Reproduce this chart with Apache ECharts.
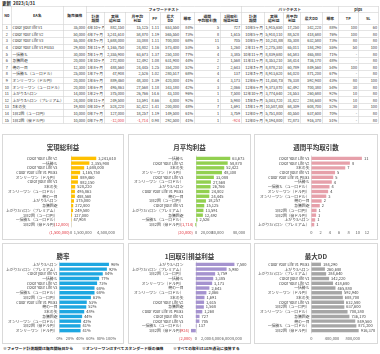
<!DOCTYPE html>
<html><head><meta charset="utf-8">
<script src="https://cdn.jsdelivr.net/npm/echarts/dist/echarts.min.js"></script>
<style>
html,body{margin:0;padding:0;width:380px;height:354px;background:#fff;overflow:hidden;font-family:"Noto Sans CJK JP",sans-serif;}
#upd{position:absolute;left:2px;top:0px;width:200px;height:12px;transform:scale(0.5);transform-origin:0 0;font-size:9px;font-weight:bold;color:#222;white-space:nowrap;}
#tblWrap{position:absolute;left:2px;top:6px;width:752px;transform:scale(0.5);transform-origin:0 0;}
table{border-collapse:collapse;table-layout:fixed;width:752px;font-size:7.6px;color:#333;}
td,th{border:1px solid #c8c8c8;padding:0 2px;white-space:nowrap;overflow:hidden;line-height:1.1;font-weight:normal;}
th{text-align:center;font-weight:bold;}
tbody td{height:12.2px;}
.r{text-align:right;}.c{text-align:center;}.l{text-align:left;}
.neg{color:#e0303a;}
.panel{position:absolute;border:1px solid #d9d9d9;box-sizing:border-box;}
.note{position:absolute;top:345px;height:12px;transform:scale(0.5);transform-origin:0 0;font-size:7.8px;font-weight:bold;color:#222;white-space:nowrap;}
</style></head>
<body>
<div id="upd">更新&nbsp;&nbsp;2023/1/31</div>
<div id="tblWrap"><table id="tbl"></table></div>
<div class="panel" id="p1" style="left:2px;top:134px;width:122px;height:106px"></div>
<div class="panel" id="p2" style="left:128px;top:134px;width:123px;height:106px"></div>
<div class="panel" id="p3" style="left:254px;top:134px;width:124px;height:106px"></div>
<div class="panel" id="p4" style="left:2px;top:243px;width:122px;height:101px"></div>
<div class="panel" id="p5" style="left:128px;top:243px;width:123px;height:101px"></div>
<div class="panel" id="p6" style="left:254px;top:243px;width:124px;height:101px"></div>
<div class="note" style="left:3px">※フォワード計測期間は販売開始日から</div>
<div class="note" style="left:82px">※オンリーワンはすべてスタンダード版の価格</div>
<div class="note" style="left:173px">※すべての取引は10万通貨に換算する</div>
<script>
// ---------- table data ----------
const eaNames = ['Color your life V1','Color Your Life V2','Color Your Life V3','Color Your Life V1 Plus3','一括勝ち','急騰回避','俺の一目','一括勝ち（ユーロドル）','オンリーワン（ドル円）','オンリーワン（ユーロドル）','上がり3ハロン','上がり3ハロン（プレミアム）','3本の矢','1日2回（ユーロ円）','1日2回（豪ドル円）'];
const prices = [35000,50000,55000,29800,30000,20000,12300,25000,20000,20000,14000,24000,19800,10000,10000];
const ftPeriod = ['4年10ヶ月','4年7ヶ月','4年3ヶ月','3年11ヶ月','3年1ヶ月','1年10ヶ月','1年8ヶ月','1年7ヶ月','1年6ヶ月','1年6ヶ月','1年2ヶ月','0年11ヶ月','0年10ヶ月','0年7ヶ月','0年7ヶ月'];
const ftProfit = [882150,3241610,1688000,1165750,2355900,272800,488560,47908,889460,495863,375000,249500,528220,127000,-12000];
const ftMonthly = [15125,58870,33088,24802,63673,12492,24445,2526,48300,27568,26766,13591,52422,18257,-1714];
const ftPF = ['1.11','1.19','1.11','1.16','1.37','1.08','1.25','1.02','1.39','1.18','14.6','8.66','1.41','1.19','0.98'];
const ftDD = [653550,565550,700000,573400,250100,631900,354200,280517,420000,343180,43100,4000,200000,149500,292500];
const ftWin = [84,73,68,53,77,44,52,68,41,42,96,92,48,61,41];
const ftWeekly = [5,8,11,5,4,2,2,4,4,3,1,1,7,1,1];
const ftPerTrade = [727,1615,705,1260,3385,1568,2643,137,3173,2066,7500,5980,1691,3759,-924];
const btPeriod = ['10年5ヶ月','10年5ヶ月','10年5ヶ月','2年11ヶ月','10年11ヶ月','11年11ヶ月','12年3ヶ月','12年3ヶ月','12年6ヶ月','12年6ヶ月','12年10ヶ月','13年3ヶ月','13年1ヶ月','12年0ヶ月','12年0ヶ月'];
const btProfit = [1915650,5910110,10241880,2275380,8839680,8353210,8878210,8913620,11450730,9373870,3774640,5043720,10587800,5751800,9194800];
const btMonthly = [17250,88528,85308,65011,64583,58414,60789,64020,76338,62492,24553,31822,68309,40550,72873];
const btDD = [342220,418680,632580,184290,465880,736170,849560,871200,592940,700380,260680,284640,608700,637600,916370];
const btWin = [88,76,73,55,71,48,54,67,43,54,92,92,52,70,51];
const pipsTP = ['100','100','80','50','-','-','100','-','80','30','10','10','30','-','-'];
const pipsSL = ['60','80','80','100','80','80','80','80','100','80','80','80','100','80','80'];

// ---------- chart data ----------
const c1Cats = ['Color Your Life V2','一括勝ち','Color Your Life V3','Color Your Life V1 Plus3','オンリーワン（ドル円）','Color your life V1','3本の矢','オンリーワン（ユーロドル）','俺の一目','上がり3ハロン','急騰回避','上がり3ハロン（プレミアム）','1日2回（ユーロ円）','一括勝ち（ユーロドル）','1日2回（豪ドル円）'];
const c1Vals = [3241610,2355900,1688000,1165750,889460,882150,528220,495863,488560,375000,272800,249500,127000,47908,-12000];
const c2Cats = ['一括勝ち','Color Your Life V2','3本の矢','オンリーワン（ドル円）','Color Your Life V3','オンリーワン（ユーロドル）','上がり3ハロン','Color Your Life V1 Plus3','俺の一目','1日2回（ユーロ円）','Color your life V1','上がり3ハロン（プレミアム）','急騰回避','一括勝ち（ユーロドル）','1日2回（豪ドル円）'];
const c2Vals = [63673,58870,52422,48300,33088,27568,26766,24802,24445,18257,15125,13591,12492,2526,-1714];
const c3Cats = ['Color Your Life V3','Color Your Life V2','3本の矢','Color your life V1','Color Your Life V1 Plus3','一括勝ち','一括勝ち（ユーロドル）','オンリーワン（ドル円）','オンリーワン（ユーロドル）','俺の一目','急騰回避','1日2回（ユーロ円）','1日2回（豪ドル円）','上がり3ハロン','上がり3ハロン（プレミアム）'];
const c3Vals = [10.9,8.3,7.3,5.1,4.7,4.4,3.9,3.6,3.2,2.2,1.8,1.1,1.0,0.8,0.6];
const c4Cats = ['上がり3ハロン','上がり3ハロン（プレミアム）','Color your life V1','一括勝ち','Color Your Life V2','Color Your Life V3','一括勝ち（ユーロドル）','1日2回（ユーロ円）','Color Your Life V1 Plus3','俺の一目','3本の矢','急騰回避','オンリーワン（ユーロドル）','1日2回（豪ドル円）','オンリーワン（ドル円）'];
const c4Vals = [96,92,84,77,73,68,68,61,53,52,48,44,42,41,41];
const c5Cats = ['上がり3ハロン','上がり3ハロン（プレミアム）','1日2回（ユーロ円）','一括勝ち','オンリーワン（ドル円）','俺の一目','オンリーワン（ユーロドル）','3本の矢','Color Your Life V2','急騰回避','Color Your Life V1 Plus3','Color your life V1','Color Your Life V3','一括勝ち（ユーロドル）','1日2回（豪ドル円）'];
const c5Vals = [7500,5980,3759,3385,3173,2643,2066,1691,1615,1568,1260,727,705,137,-924];
const c6Cats = ['Color Your Life V1 Plus3','上がり3ハロン','上がり3ハロン（プレミアム）','Color your life V1','Color Your Life V2','一括勝ち','オンリーワン（ドル円）','3本の矢','Color Your Life V3','1日2回（ユーロ円）','オンリーワン（ユーロドル）','急騰回避','俺の一目','一括勝ち（ユーロドル）','1日2回（豪ドル円）'];
const c6Vals = [184290,260680,284640,342220,418680,465880,592940,608700,632580,637600,700380,736170,849560,871200,916370];

// ---------- helpers ----------
const nf = v => Math.abs(v).toLocaleString('en-US');
const sgn = v => (v < 0 ? '-' : '') + nf(v);
const acc = v => v < 0 ? '(' + nf(v) + ')' : nf(v);

// ---------- table ----------
(function(){
  const colW = [9,52,23,18,21,24,11,20,14,26,21,23,19,17,22,16,20,20];
  let h = '<colgroup>' + colW.map(w=>'<col style="width:'+(w*2)+'px">').join('') + '</colgroup>';
  h += '<thead><tr style="height:12px"><th rowspan="2">No</th><th rowspan="2">EA名</th><th rowspan="2">販売価格</th>'+
       '<th colspan="8">フォワードテスト</th><th colspan="5">バックテスト</th><th colspan="2">pips</th></tr>';
  h += '<tr style="height:24px"><th>計測<br>期間</th><th>実現<br>総利益</th><th>月平均<br>利益</th><th>PF</th><th>最大<br>DD</th><th>勝率</th><th>週間<br>平均取引数</th><th>1回取引<br>損益利益</th>'+
       '<th>計測<br>期間</th><th>実現<br>総利益</th><th>月平均<br>利益</th><th>最大DD</th><th>勝率</th><th>TP</th><th>SL</th></tr></thead><tbody>';
  const num = v => '<td class="r'+(v<0?' neg':'')+'">'+sgn(v)+'</td>';
  eaNames.forEach((n,i)=>{
    h += '<tr><td class="c">'+(i+1)+'</td><td class="l">'+n+'</td>'+num(prices[i])+
      '<td class="r">'+ftPeriod[i]+'</td>'+num(ftProfit[i])+num(ftMonthly[i])+
      '<td class="r">'+ftPF[i]+'</td>'+num(ftDD[i])+'<td class="r">'+ftWin[i]+'%</td>'+
      '<td class="r">'+ftWeekly[i]+'</td>'+num(ftPerTrade[i])+
      '<td class="r">'+btPeriod[i]+'</td>'+num(btProfit[i])+num(btMonthly[i])+num(btDD[i])+
      '<td class="r">'+btWin[i]+'%</td><td class="r">'+pipsTP[i]+'</td><td class="r">'+pipsSL[i]+'</td></tr>';
  });
  h += '</tbody>';
  document.getElementById('tbl').innerHTML = h;
})();

// ---------- charts ----------
const RED = '#e0303a';
function makeChart(id, cfg){
  const ch = echarts.init(document.getElementById(id), null, {renderer:'canvas'});
  const lf = cfg.labelFmt || acc;
  ch.setOption({
    animation:false,
    title:{text:cfg.title,left:'center',top:cfg.titleTop||4,textStyle:{fontSize:6.5,fontWeight:'bold',color:'#404040',fontFamily:'Noto Sans CJK JP'}},
    grid:cfg.grid,
    xAxis:{type:'value',min:cfg.min,max:cfg.max,interval:cfg.interval,
      splitLine:{show:false},axisLine:{show:false},axisTick:{show:false},
      axisLabel:{fontSize:4,margin:3,fontFamily:'Noto Sans CJK JP',
        color:v=> v<0?RED:'#595959',
        formatter:cfg.axisFmt||(v=>acc(v)),showMaxLabel:cfg.showMax!==false}},
    yAxis:{type:'category',inverse:true,data:cfg.cats,
      axisLine:{show:true,onZero:true,lineStyle:{color:'#bfbfbf',width:0.5}},axisTick:{show:false},
      axisLabel:{interval:0,fontSize:3.8,margin:2,color:'#404040',fontFamily:'Noto Sans CJK JP'}},
    series:[{type:'bar',barCategoryGap:'28%',
      itemStyle:{color:cfg.color},
      label:{show:true,position:'right',distance:2,fontSize:4,color:'#404040',fontFamily:'Noto Sans CJK JP',formatter:p=>lf(p.value)},
      data:cfg.vals.map(v=> v<0 ? {value:v,label:{position:'left',color:RED}} : v)}]
  });
}
makeChart('p1',{title:'実現総利益',cats:c1Cats,vals:c1Vals,color:'#FFC000',min:-1500000,max:4500000,interval:1500000,
  grid:{left:23,right:17,top:21,bottom:12}});
makeChart('p2',{title:'月平均利益',cats:c2Cats,vals:c2Vals,color:'#92D050',min:-20000,max:80000,interval:20000,
  grid:{left:33,right:11,top:21,bottom:12}});
makeChart('p3',{title:'週間平均取引数',cats:c3Cats,vals:c3Vals,color:'#E6A0AA',min:0,max:12,interval:2,
  labelFmt:v=>String(Math.round(v)),grid:{left:55,right:10,top:21,bottom:12}});
makeChart('p4',{title:'勝率',cats:c4Cats,vals:c4Vals,color:'#1EA7E1',min:0,max:100,interval:20,
  labelFmt:v=>v+'%',axisFmt:v=>v+'%',grid:{left:55,right:12,top:18,bottom:10}});
makeChart('p5',{title:'1回取引損益利益',cats:c5Cats,vals:c5Vals,color:'#A593CF',min:-2000,max:8000,interval:2000,
  grid:{left:37,right:13,top:18,bottom:10}});
makeChart('p6',{title:'最大DD',cats:c6Cats,vals:c6Vals,color:'#A6A6A6',min:0,max:1000000,interval:400000,showMax:false,
  grid:{left:55,right:14,top:18,bottom:10}});
</script>
</body></html>
